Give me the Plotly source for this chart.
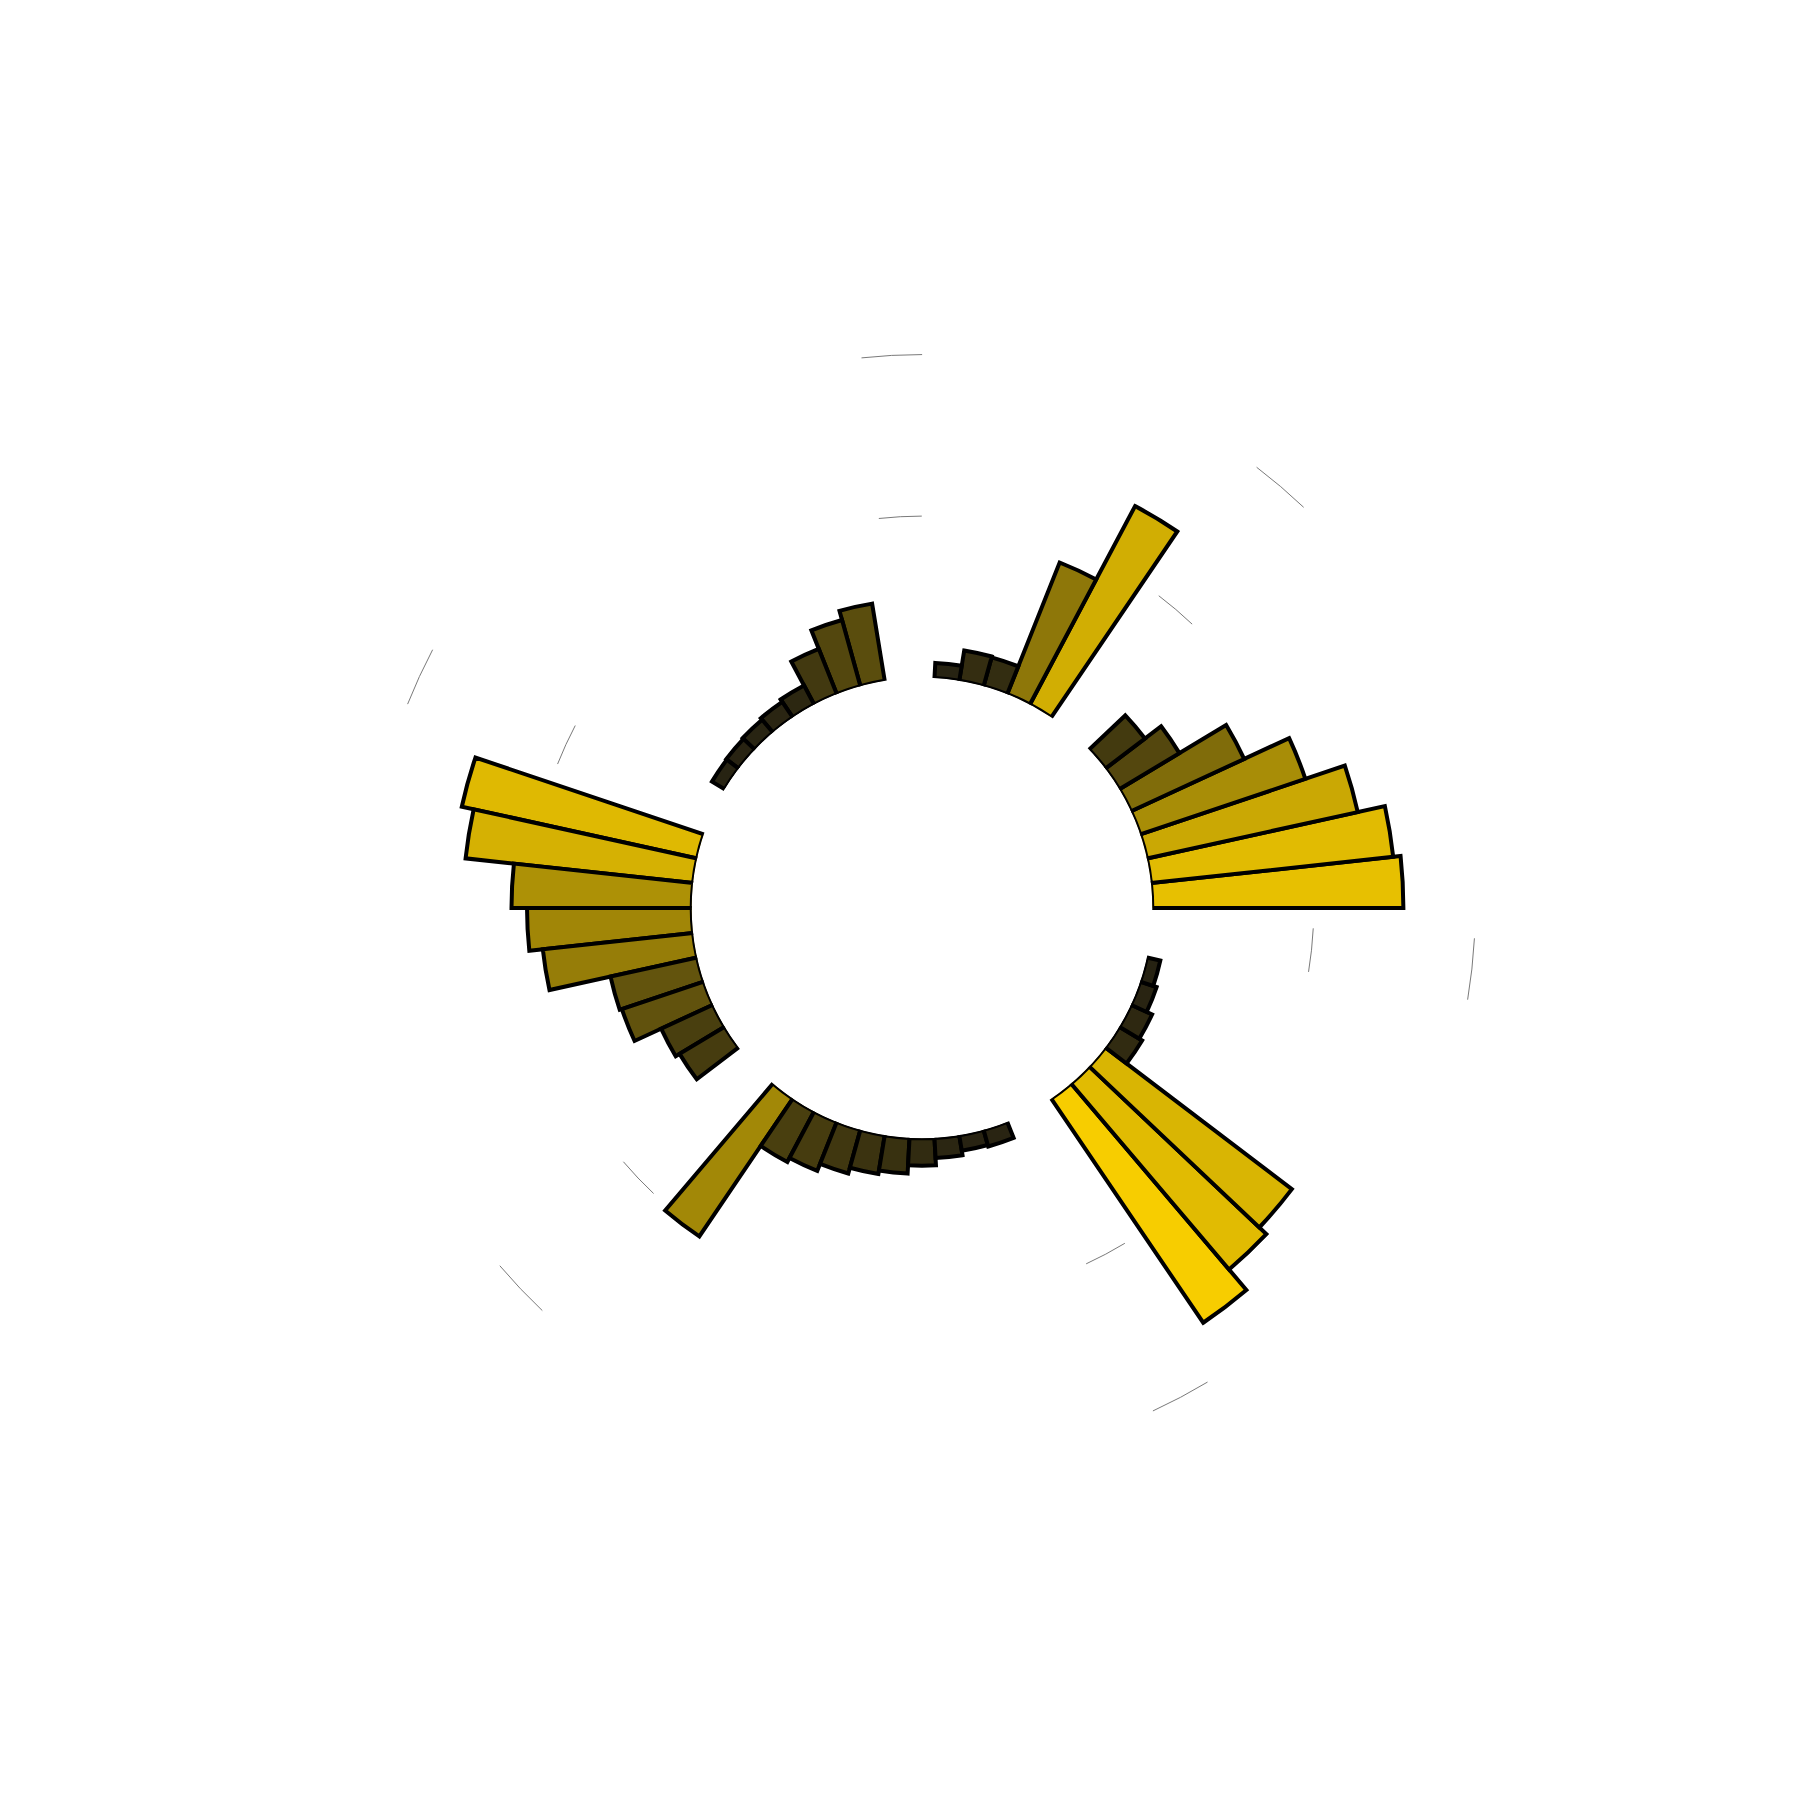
import math
import plotly.graph_objects as go

# ---------------- data ----------------
N_BINS = 58  # angular sectors around the circle
# bar value per sector, counter-clockwise from 0 deg (None = no bar)
values = [
    15.55, 15.09, 13.37, 10.79, 7.72, 4.34, 3.08, None, None,
    13.91, 8.77, 1.85, 1.90, 0.94, None, None,
    4.84, 4.25, 3.02, 1.34, 1.16, 1.04, 0.97, 0.92, None, None,
    14.92, 14.17, 11.16, 10.20, 9.36, 5.49, 5.35, 3.54, 3.26, None, None,
    10.31, 3.54, 3.26, 2.80, 2.43, 2.21, 1.70, 1.25, 0.97, 1.07, None, None,
    16.77, 15.11, 14.51, 1.65, 1.44, 1.07, 0.85, None, None,
]
RADIAL_RANGE = [0, 35.9]
GRID_INNER = [10]
GRID_OUTER = [20]
# visible pieces of the dashed grid circles (degrees, counter-clockwise from 0)
GRID_DASH_DEG = [(46.4, 52.8), (90.0, 96.3), (152.2, 158.4),
                 (220.3, 226.7), (294.7, 301.1), (350.5, 356.9)]

# ---------------- styling ----------------
HOLE = 0.2843
R_PX = 810  # polar radius in px given the margins below
COLORSCALE = [[0, "#262212"], [1, "#f7cd00"]]

bin_width = 360 / N_BINS
theta = [(i + 0.5) * bin_width for i, v in enumerate(values) if v is not None]
r = [v for v in values if v is not None]

hole_px = HOLE * R_PX
px_per_unit = (R_PX - hole_px) / (RADIAL_RANGE[1] - RADIAL_RANGE[0])


def dash_for(val):
    rad = hole_px + val * px_per_unit
    k = rad * math.pi / 180.0
    parts = [0.0]
    prev = 0.0
    for a, b in GRID_DASH_DEG:
        parts += [(a - prev) * k, (b - a) * k]
        prev = b
    parts.append((360 - prev + 40) * k)
    return ",".join(f"{p:.1f}px" for p in parts)


fig = go.Figure()
fig.add_trace(go.Barpolar(
    r=r, theta=theta, width=bin_width, subplot="polar",
    marker=dict(color=r, colorscale=COLORSCALE, showscale=False,
                line=dict(color="black", width=4)),
    showlegend=False, hoverinfo="r+theta",
))
# empty trace that carries the second (overlay) polar frame for the outer grid ring
fig.add_trace(go.Scatterpolar(r=[None], theta=[None], mode="lines",
                              subplot="polar2", showlegend=False, hoverinfo="skip"))

common_ang = dict(showgrid=False, showline=False, showticklabels=False, ticks="")
full_domain = dict(x=[0, 1], y=[0, 1])


def radial(vals):
    return dict(range=RADIAL_RANGE, tickvals=vals, showline=False,
                showticklabels=False, ticks="", showgrid=True,
                gridcolor="#7a7a7a", gridwidth=1.4, griddash=dash_for(vals[0]))


fig.update_layout(
    width=1800, height=1800,
    paper_bgcolor="white", plot_bgcolor="white",
    showlegend=False,
    margin=dict(l=104, r=76, t=90, b=90),
    polar=dict(domain=full_domain, hole=HOLE, bgcolor="rgba(0,0,0,0)",
               radialaxis=radial(GRID_INNER), angularaxis=common_ang),
    polar2=dict(domain=full_domain, hole=HOLE, bgcolor="rgba(0,0,0,0)",
                radialaxis=radial(GRID_OUTER), angularaxis=common_ang),
)

fig.write_html("out.html")
